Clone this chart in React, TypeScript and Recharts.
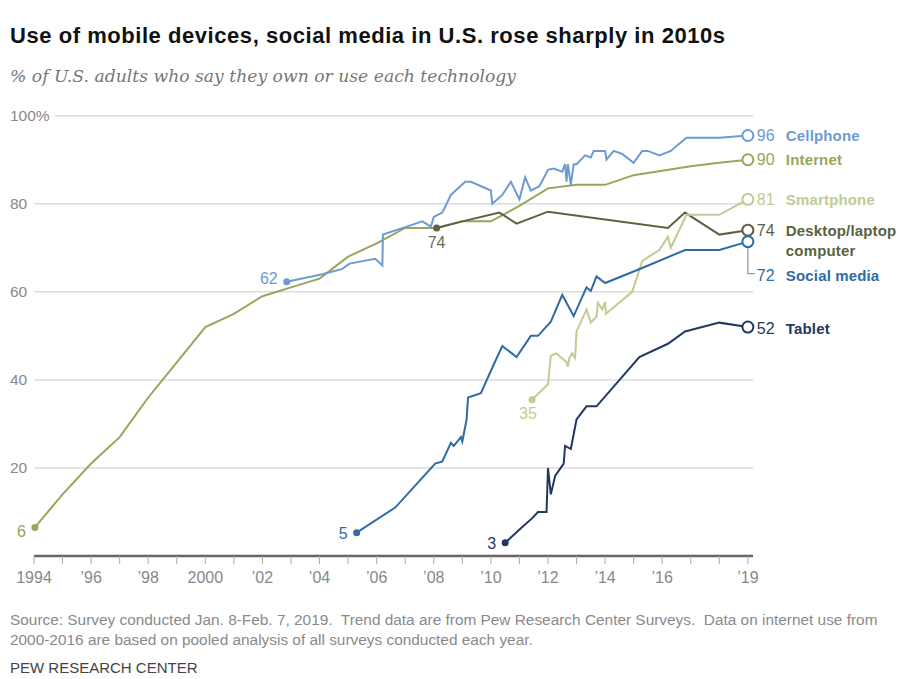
import React from "react";
import { LineChart, Line, XAxis, YAxis, CartesianGrid } from "recharts";

// [year, percent]
const internet = [
  [1994.03, 6.5], [1995, 14], [1996, 21], [1997, 27], [1998, 36], [1999, 44],
  [2000, 52], [2001, 55], [2002, 59], [2003, 61], [2004, 63], [2005, 68],
  [2006, 71], [2007, 74.5], [2008.1, 74.5], [2009, 76], [2010, 76], [2011, 79.5],
  [2012, 83.5], [2013, 84.3], [2014, 84.3], [2015, 86.5], [2016, 87.5],
  [2017, 88.5], [2018, 89.3], [2019, 90],
];

const cellphone = [
  [2002.85, 62.3], [2004.1, 64], [2004.8, 65.2], [2005.05, 66.4], [2005.95, 67.5],
  [2006.2, 66], [2006.22, 73], [2007, 74.7], [2007.6, 76], [2007.9, 74.8],
  [2008, 77], [2008.3, 78], [2008.6, 82], [2009.1, 85], [2009.3, 85], [2010, 83],
  [2010.05, 80], [2010.4, 82], [2010.7, 85], [2011, 81], [2011.2, 86], [2011.4, 83],
  [2011.7, 84], [2012, 87.7], [2012.2, 88], [2012.5, 87.3], [2012.6, 89],
  [2012.65, 85], [2012.7, 89], [2012.8, 84.3], [2012.9, 89], [2013, 89],
  [2013.3, 91], [2013.5, 90.5], [2013.6, 92], [2013.75, 92], [2014, 92],
  [2014.05, 90], [2014.3, 92], [2014.6, 91.3], [2015, 89.3], [2015.3, 92],
  [2015.5, 92], [2015.9, 91], [2016.3, 92], [2016.85, 95], [2018, 95], [2019, 95.5],
];

const desktop = [
  [2008.1, 74.5], [2009, 76], [2010.3, 78], [2010.9, 75.5], [2012, 78.2],
  [2016.2, 74.5], [2016.8, 78], [2018, 73], [2019, 74],
];

const smartphone = [
  [2011.44, 35.5], [2012, 39], [2012.1, 45.5], [2012.3, 46], [2012.65, 44],
  [2012.7, 43], [2012.75, 45], [2012.85, 46], [2012.95, 45], [2013, 51],
  [2013.35, 56], [2013.5, 53], [2013.7, 54.4], [2013.75, 57.5], [2013.9, 56],
  [2014, 57.7], [2014.03, 55], [2014.95, 60], [2015.3, 67], [2015.9, 69.5],
  [2016.2, 72.5], [2016.3, 70], [2016.85, 77.5], [2018, 77.5], [2019, 81],
];

const socialMedia = [
  [2005.3, 5.3], [2006.65, 11], [2008.05, 21], [2008.3, 21.5], [2008.6, 25.7],
  [2008.7, 25], [2008.95, 27], [2009, 26], [2009.15, 31], [2009.2, 36],
  [2009.65, 37], [2010.1, 43.5], [2010.4, 47.7], [2010.9, 45.2], [2011.4, 50],
  [2011.65, 50], [2012.1, 53.2], [2012.5, 59.3], [2012.9, 54.5], [2013.35, 61],
  [2013.5, 60.2], [2013.7, 63.5], [2014, 62], [2015.3, 65.4], [2016.8, 69.5],
  [2018, 69.5], [2019, 71.4],
];

const tablet = [
  [2010.5, 3], [2011.1, 6.6], [2011.45, 8.6], [2011.65, 10], [2011.95, 10],
  [2012, 20], [2012.1, 14], [2012.25, 18.2], [2012.55, 21], [2012.6, 25],
  [2012.8, 24.3], [2013, 31], [2013.35, 34], [2013.7, 34], [2015.2, 45.2],
  [2016.2, 48.2], [2016.8, 51], [2018, 53], [2019, 52],
];

const yearTicks = [
  1994, 1995, 1996, 1997, 1998, 1999, 2000, 2001, 2002, 2003, 2004, 2005, 2006,
  2007, 2008, 2009, 2010, 2011, 2012, 2013, 2014, 2015, 2016, 2017, 2018, 2019,
];
const yearLabels: Record<number, string> = {
  1994: "1994", 1996: "’96", 1998: "’98", 2000: "2000", 2002: "’02", 2004: "’04",
  2006: "’06", 2008: "’08", 2010: "’10", 2012: "’12", 2014: "’14", 2016: "’16",
  2019: "’19",
};
const pctTicks = [20, 40, 60, 80, 100];

const toRows = (pts: number[][]) => pts.map(([x, v]) => ({ x, v }));

const SANS = "'Liberation Sans', Arial, sans-serif";
const NARROW = "'Liberation Sans Narrow', 'Arial Narrow', sans-serif";

type Cfg = {
  name: string;
  color: string;
  pts: number[][];
  start: { text: string; dx: number; dy: number; anchor: "start" | "middle" | "end"; color?: string };
  end: { num: string; lines: string[]; dy: number; leader?: boolean };
};

const series: Cfg[] = [
  {
    name: "internet", color: "#9aa55a", pts: internet,
    start: { text: "6", dx: -9, dy: 4, anchor: "end" },
    end: { num: "90", lines: ["Internet"], dy: 0 },
  },
  {
    name: "cellphone", color: "#6d9bd1", pts: cellphone,
    start: { text: "62", dx: -9, dy: -3, anchor: "end" },
    end: { num: "96", lines: ["Cellphone"], dy: 0 },
  },
  {
    name: "desktop", color: "#5a6242", pts: desktop,
    start: { text: "74", dx: 0, dy: 15, anchor: "middle", color: "#6b6b58" },
    end: { num: "74", lines: ["Desktop/laptop", "computer"], dy: 0 },
  },
  {
    name: "smartphone", color: "#c1cb93", pts: smartphone,
    start: { text: "35", dx: -4, dy: 14, anchor: "middle" },
    end: { num: "81", lines: ["Smartphone"], dy: 0 },
  },
  {
    name: "social", color: "#2f6ba5", pts: socialMedia,
    start: { text: "5", dx: -9, dy: 1, anchor: "end" },
    end: { num: "72", lines: ["Social media"], dy: 34, leader: true },
  },
  {
    name: "tablet", color: "#1f3a5e", pts: tablet,
    start: { text: "3", dx: -9, dy: 1, anchor: "end" },
    end: { num: "52", lines: ["Tablet"], dy: 1.5 },
  },
];

const makeDot = (cfg: Cfg) => (props: any) => {
  const { cx, cy, index } = props;
  const last = cfg.pts.length - 1;
  const key = `${cfg.name}-${index}`;
  if (index === 0) {
    return (
      <g key={key}>
        <circle cx={cx} cy={cy} r={3.5} fill={cfg.color} />
        <text
          x={cx + cfg.start.dx}
          y={cy + cfg.start.dy}
          textAnchor={cfg.start.anchor}
          dominantBaseline="central"
          fontFamily={SANS}
          fontSize={16}
          fill={cfg.start.color || cfg.color}
        >
          {cfg.start.text}
        </text>
      </g>
    );
  }
  if (index === last) {
    const ly = cy + cfg.end.dy;
    return (
      <g key={key}>
        {cfg.end.leader && (
          <polyline
            points={`${cx},${cy + 6} ${cx},${ly - 2} ${cx + 7},${ly - 2}`}
            fill="none"
            stroke="#999"
            strokeWidth={1.3}
          />
        )}
        <circle cx={cx} cy={cy} r={5.5} fill="#fff" stroke={cfg.color} strokeWidth={2} />
        <text
          x={cx + 9}
          y={ly}
          dominantBaseline="central"
          fontFamily={SANS}
          fontSize={16}
          fill={cfg.color}
        >
          {cfg.end.num}
        </text>
        {cfg.end.lines.map((l, i) => (
          <text
            key={l}
            x={cx + 38}
            y={ly + i * 20}
            dominantBaseline="central"
            fontFamily={SANS}
            fontSize={15}
            fontWeight="bold"
            letterSpacing={0.15}
            fill={cfg.color}
          >
            {l}
          </text>
        ))}
      </g>
    );
  }
  return <g key={key} />;
};

const PctTick = (props: any) => {
  const { y, payload } = props;
  const label = payload.value === 100 ? "100%" : String(payload.value);
  return (
    <g>
      {payload.value === 100 && <rect x={33} y={y - 8} width={22} height={16} fill="#fff" />}
      <text x={10} y={y} dominantBaseline="central" fontFamily={SANS} fontSize={15.5} fill="#888">
        {label}
      </text>
    </g>
  );
};

export default function App() {
  return (
    <div style={{ position: "relative", width: 906, height: 679, margin: "-8px -8px 0 -8px", background: "#fff" }}>
      <div
        style={{
          position: "absolute", left: 10, top: 23, fontFamily: SANS, fontWeight: "bold",
          fontSize: 22, letterSpacing: 0.55, lineHeight: "26px", color: "#111", whiteSpace: "nowrap",
        }}
      >
        Use of mobile devices, social media in U.S. rose sharply in 2010s
      </div>
      <div
        style={{
          position: "absolute", left: 10, top: 65, fontFamily: "'DejaVu Serif', serif", fontStyle: "italic",
          fontSize: 17.2, lineHeight: "22px", color: "#777", whiteSpace: "nowrap",
        }}
      >
        % of U.S. adults who say they own or use each technology
      </div>

      <div style={{ position: "absolute", left: 0, top: 0 }}>
        <LineChart width={906} height={600} margin={{ top: 115.7, right: 153, bottom: 14, left: 0 }}>
          <CartesianGrid horizontal vertical={false} stroke="#dcdcdc" strokeWidth={1.5} />
          <XAxis
            dataKey="x"
            type="number"
            domain={[1994, 2019.18]}
            ticks={yearTicks}
            interval={0}
            tickFormatter={(v: number) => yearLabels[v] || ""}
            height={30}
            axisLine={{ stroke: "#666", strokeWidth: 2.5 }}
            tickLine={{ stroke: "#aaa" }}
            tickSize={8}
            tickMargin={8}
            tick={{ fontFamily: SANS, fontSize: 16, fill: "#888" }}
          />
          <YAxis
            type="number"
            domain={[0, 100]}
            ticks={pctTicks}
            width={34}
            axisLine={false}
            tickLine={false}
            tick={<PctTick />}
          />
          {series.map((s) => (
            <Line
              key={s.name}
              data={toRows(s.pts)}
              dataKey="v"
              type="linear"
              stroke={s.color}
              strokeWidth={2}
              dot={makeDot(s)}
              activeDot={false}
              isAnimationActive={false}
            />
          ))}
        </LineChart>
      </div>

      <div
        style={{
          position: "absolute", left: 10, top: 610, fontFamily: NARROW,
          fontSize: 15.4, lineHeight: "20px", color: "#8a8a8a", whiteSpace: "nowrap",
        }}
      >
        Source: Survey conducted Jan. 8-Feb. 7, 2019.&nbsp; Trend data are from Pew Research Center Surveys.&nbsp; Data on internet use from
        <br />
        2000-2016 are based on pooled analysis of all surveys conducted each year.
      </div>
      <div
        style={{
          position: "absolute", left: 10, top: 659, fontFamily: NARROW,
          fontSize: 15, lineHeight: "18px", color: "#444", whiteSpace: "nowrap",
        }}
      >
        PEW RESEARCH CENTER
      </div>
    </div>
  );
}
